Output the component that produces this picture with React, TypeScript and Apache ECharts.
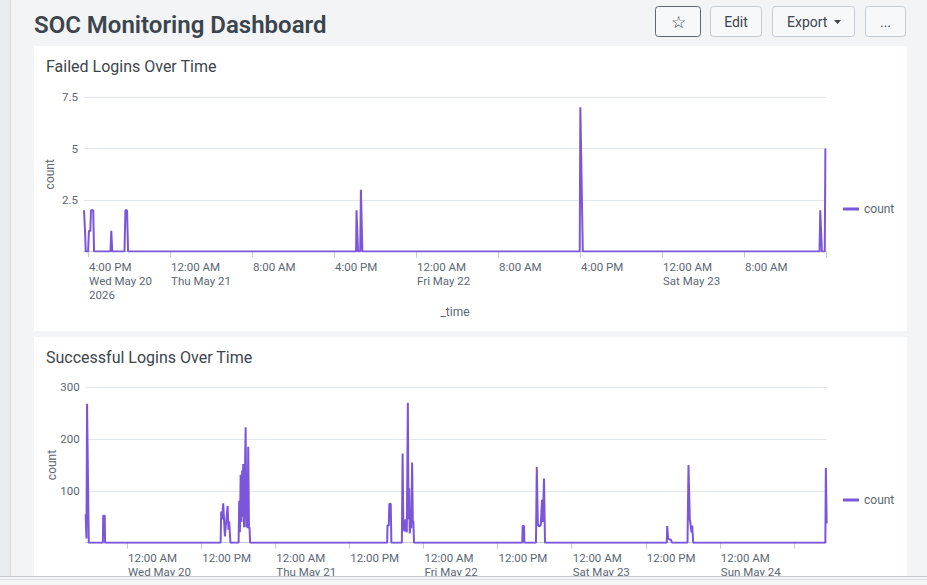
import { useEffect, useRef } from "react";
import * as echarts from "echarts";

// Failed logins: hours counted from Wed May 20 2026 00:00
const failedHours = [
  15.6, 15.7, 15.77, 16.0, 16.08, 16.22, 16.28, 16.5, 16.58,
  18.18, 18.26, 18.36, 19.55, 19.64, 19.8, 19.9,
  42.15, 42.19, 42.34, 42.55, 42.62, 42.76,
  63.97, 64.03, 64.27,
  87.37, 87.44, 87.6, 87.88, 87.94, 88.0,
];
const failedCounts = [
  2, 1, 0, 0, 1, 1, 2, 2, 0,
  0, 1, 0, 0, 2, 2, 0,
  0, 2, 0, 0, 3, 0,
  0, 7, 0,
  0, 2, 0, 0, 5, 5,
];
const failedTickHours = [16, 24, 32, 40, 48, 56, 64, 72, 80, 88];
const failedTickLabels = [
  "4:00 PM\nWed May 20\n2026",
  "12:00 AM\nThu May 21",
  "8:00 AM",
  "4:00 PM",
  "12:00 AM\nFri May 22",
  "8:00 AM",
  "4:00 PM",
  "12:00 AM\nSat May 23",
  "8:00 AM",
  "",
];

// Successful logins: hours counted from Wed May 20 2026 00:00
const successHours = [
  -6.7, -6.58, -6.48, -6.41, -6.2,
  -3.92, -3.86, -3.62, -3.56,
  15.15, 15.24, 15.38, 15.57, 15.84, 16.0, 16.28, 16.42, 16.54, 16.74,
  18.06, 18.16, 18.27, 18.39, 18.52, 18.65, 18.72, 18.81, 18.95, 19.2, 19.32, 19.43, 19.52, 19.62, 19.74, 19.82, 19.93,
  42.12, 42.17, 42.38, 42.47, 42.7, 42.8,
  44.5, 44.62, 44.74, 44.92, 45.08, 45.2, 45.3, 45.47, 45.58, 45.68, 45.78, 45.92, 46.02, 46.16, 46.28, 46.36, 46.47,
  64.0, 64.06, 64.28, 64.34,
  66.22, 66.35, 66.52, 66.76, 67.0, 67.2, 67.33, 67.52, 67.68,
  87.4, 87.47, 87.62, 87.9, 88.05, 88.25,
  90.76, 90.92, 91.13, 91.24, 91.4, 91.52, 91.68,
  113.08, 113.16, 113.3,
];
const successCounts = [
  55, 8, 268, 268, 0,
  0, 52, 52, 0,
  0, 60, 45, 76, 12, 34, 71, 25, 41, 0,
  0, 81, 20, 131, 40, 140, 50, 152, 30, 223, 30, 120, 28, 185, 28, 30, 0,
  0, 33, 33, 75, 75, 0,
  0, 172, 30, 22, 45, 25, 20, 270, 45, 105, 18, 40, 28, 155, 38, 42, 0,
  0, 32, 32, 0,
  0, 146, 35, 31, 35, 83, 40, 124, 0,
  0, 32, 8, 6, 6, 0,
  0, 150, 45, 37, 20, 33, 0,
  0, 144, 37,
];
const successTickHours = [0, 12, 24, 36, 48, 60, 72, 84, 96, 108];
const successTickLabels = [
  "12:00 AM\nWed May 20",
  "12:00 PM",
  "12:00 AM\nThu May 21",
  "12:00 PM",
  "12:00 AM\nFri May 22",
  "12:00 PM",
  "12:00 AM\nSat May 23",
  "12:00 PM",
  "12:00 AM\nSun May 24",
  "",
];

const PURPLE = "#7b56db";
const TEXT = "#3c444d";
const AXIS_TEXT = "#5c6773";
const GRID_LINE = "#e1e6eb";
const AXIS_LINE = "#c3cbd4";
const PAGE_BG = "#f2f4f5";
const FONT = "Roboto, 'Noto Sans', sans-serif";

const zip = (xs: number[], ys: number[]) => xs.map((x, i) => [x, ys[i]]);

const tickFormatter = (ticks: number[], labels: string[]) => (v: number) => {
  const i = ticks.findIndex((t) => Math.abs(t - v) < 1e-6);
  return i >= 0 ? labels[i] : "";
};

function button(x: number, w: number, label: string, border: string, size = 14) {
  return {
    type: "group",
    x,
    y: 6,
    children: [
      {
        type: "rect",
        shape: { x: 0.5, y: 0.5, width: w - 1, height: 30, r: 3 },
        style: { fill: "#f7f8fa", stroke: border, lineWidth: 1 },
      },
      {
        type: "text",
        x: w / 2,
        y: 15.5,
        style: {
          text: label,
          fill: TEXT,
          font: `${size}px ${FONT}`,
          textAlign: "center",
          textVerticalAlign: "middle",
        },
      },
    ],
  };
}

export default function App() {
  const ref = useRef<HTMLDivElement>(null);

  useEffect(() => {
    if (!ref.current) return;
    const chart = echarts.init(ref.current, undefined, { renderer: "svg" });

    const xAxisBase = (
      min: number,
      max: number,
      ticks: number[],
      labels: string[],
      gridIndex: number
    ) => ({
      type: "value",
      gridIndex,
      min,
      max,
      splitLine: { show: false },
      axisLine: { show: true, lineStyle: { color: AXIS_LINE, width: 1 } },
      axisTick: {
        show: true,
        customValues: ticks,
        length: 6,
        lineStyle: { color: AXIS_LINE },
      },
      axisLabel: {
        customValues: ticks,
        formatter: tickFormatter(ticks, labels),
        align: "left",
        margin: 8,
        padding: [0, 0, 0, 1],
        color: AXIS_TEXT,
        fontSize: 11.5,
        lineHeight: 14,
        fontFamily: FONT,
      },
    });

    const yAxisBase = (max: number, interval: number, gridIndex: number) => ({
      type: "value",
      gridIndex,
      min: 0,
      max,
      interval,
      name: "count",
      nameLocation: "middle",
      nameGap: 28,
      nameMoveOverlap: false,
      nameTextStyle: { color: AXIS_TEXT, fontSize: 12, fontFamily: FONT },
      axisLine: { show: false },
      axisTick: { show: false },
      splitLine: { show: true, lineStyle: { color: GRID_LINE, width: 1 } },
      axisLabel: {
        formatter: (v: number) => (v === 0 ? "" : String(v)),
        color: AXIS_TEXT,
        fontSize: 11.5,
        margin: 6,
        fontFamily: FONT,
      },
    });

    const legendBase = (top: number) => ({
      data: ["count"],
      left: 838,
      top,
      icon: "rect",
      itemWidth: 16,
      itemHeight: 3,
      itemGap: 5,
      selectedMode: false,
      textStyle: { color: AXIS_TEXT, fontSize: 12, fontFamily: FONT },
    });

    const lineSeries = (data: number[][], idx: number) => ({
      type: "line",
      name: "count",
      xAxisIndex: idx,
      yAxisIndex: idx,
      data,
      showSymbol: false,
      symbol: "none",
      color: PURPLE,
      lineStyle: { color: PURPLE, width: 2 },
      z: 3,
    });

    chart.setOption({
      animation: false,
      backgroundColor: PAGE_BG,
      textStyle: { fontFamily: FONT },
      grid: [
        { left: 84, top: 97, width: 742, height: 154.5 },
        { left: 85.7, top: 387.3, width: 741, height: 155.4 },
      ],
      xAxis: [
        {
          ...xAxisBase(15.6, 88, failedTickHours, failedTickLabels, 0),
          name: "_time",
          nameLocation: "middle",
          nameGap: 54,
          nameMoveOverlap: false,
          nameTextStyle: { color: AXIS_TEXT, fontSize: 12, fontFamily: FONT },
        },
        xAxisBase(-6.7, 113.3, successTickHours, successTickLabels, 1),
      ],
      yAxis: [yAxisBase(7.5, 2.5, 0), yAxisBase(300, 100, 1)],
      legend: [legendBase(198), legendBase(489)],
      series: [
        lineSeries(zip(failedHours, failedCounts), 0),
        lineSeries(zip(successHours, successCounts), 1),
      ],
      graphic: [
        // left navigation strip
        {
          type: "rect",
          z: -20,
          shape: { x: 0, y: 0, width: 10, height: 585 },
          style: { fill: "#e9ecef" },
        },
        {
          type: "line",
          z: -20,
          shape: { x1: 10.5, y1: 0, x2: 10.5, y2: 585 },
          style: { stroke: "#d6dadf", lineWidth: 1 },
        },
        // panels
        {
          type: "rect",
          z: -10,
          shape: { x: 34, y: 46, width: 873, height: 285 },
          style: { fill: "#ffffff" },
        },
        {
          type: "rect",
          z: -10,
          shape: { x: 34, y: 337, width: 873, height: 240 },
          style: { fill: "#ffffff" },
        },
        {
          type: "text",
          x: 34,
          y: 25,
          style: {
            text: "SOC Monitoring Dashboard",
            fill: TEXT,
            font: `600 24px ${FONT}`,
            textVerticalAlign: "middle",
          },
        },
        {
          type: "text",
          x: 46,
          y: 66,
          style: {
            text: "Failed Logins Over Time",
            fill: TEXT,
            font: `16px ${FONT}`,
            textVerticalAlign: "middle",
          },
        },
        {
          type: "text",
          x: 46,
          y: 357,
          style: {
            text: "Successful Logins Over Time",
            fill: TEXT,
            font: `16px ${FONT}`,
            textVerticalAlign: "middle",
          },
        },
        // toolbar buttons
        button(655, 46, "☆", "#5c6773", 17),
        button(710, 52, "Edit", AXIS_LINE),
        {
          type: "group",
          x: 772,
          y: 6,
          children: [
            {
              type: "rect",
              shape: { x: 0.5, y: 0.5, width: 82, height: 30, r: 3 },
              style: { fill: "#f7f8fa", stroke: AXIS_LINE, lineWidth: 1 },
            },
            {
              type: "text",
              x: 15,
              y: 15.5,
              style: {
                text: "Export",
                fill: TEXT,
                font: `14px ${FONT}`,
                textVerticalAlign: "middle",
              },
            },
            {
              type: "polygon",
              shape: { points: [[62, 14], [69, 14], [65.5, 18]] },
              style: { fill: TEXT },
            },
          ],
        },
        button(865, 41, "...", AXIS_LINE),
        // bottom edge of the viewport
        {
          type: "rect",
          z: 50,
          shape: { x: 0, y: 576, width: 927, height: 9 },
          style: { fill: PAGE_BG },
        },
        {
          type: "line",
          z: 51,
          shape: { x1: 0, y1: 576.5, x2: 927, y2: 576.5 },
          style: { stroke: "#c5c9ce", lineWidth: 1 },
        },
        {
          type: "line",
          z: 51,
          shape: { x1: 0, y1: 579.5, x2: 927, y2: 579.5 },
          style: { stroke: "#dfe2e5", lineWidth: 1 },
        },
      ],
    });

    return () => chart.dispose();
  }, []);

  return (
    <div
      ref={ref}
      style={{ position: "absolute", left: 0, top: 0, width: 927, height: 585 }}
    />
  );
}
